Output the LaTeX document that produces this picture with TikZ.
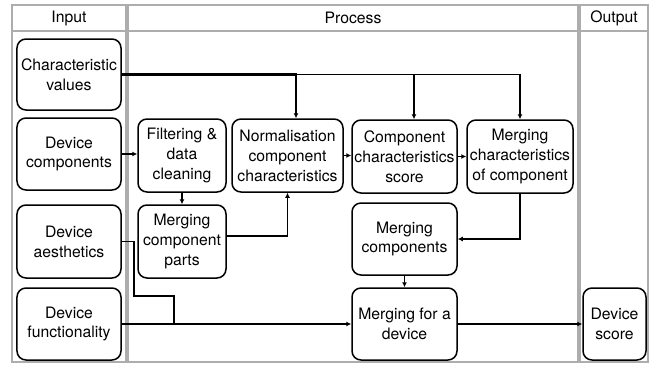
\documentclass[tikz,border=0pt]{standalone}
\usepackage{fontspec}
\setmainfont{TeX Gyre Heros}
\usetikzlibrary{arrows.meta}
\begin{document}
\begin{tikzpicture}[x=1bp,y=-1bp,
  lane/.style={draw=black!32,line width=1.6bp},
  box/.style={draw,line width=1.5bp,rounded corners=9bp,align=center,inner sep=0pt,
    font=\fontsize{15.8}{20}\selectfont},
  head/.style={font=\fontsize{15.8}{20}\selectfont},
  conn/.style={line width=1.9bp,-{Latex[length=5bp,width=5bp]}},
  link/.style={line width=1.9bp}]
\useasboundingbox (0,0) rectangle (649,364);
% swimlanes
\draw[lane] (12,5) rectangle (126,362);
\draw[lane] (128,5) rectangle (578,362);
\draw[lane] (580,5) rectangle (648,362);
\draw[lane] (12,31) -- (126,31);
\draw[lane] (128,31) -- (578,31);
\draw[lane] (580,31) -- (648,31);
\node[head] (hin) at (69,18) {Input};
\node[head] (hpr) at (353,18) {Process};
\node[head] (hout) at (614,18) {Output};
% input boxes
\node[box,minimum width=104bp,minimum height=71bp] (cv) at (69,74.5) {Characteristic\\values};
\node[box,minimum width=104bp,minimum height=72bp] (dc) at (69,154) {Device\\components};
\node[box,minimum width=104bp,minimum height=73bp] (da) at (69,241.5) {Device\\aesthetics};
\node[box,minimum width=104bp,minimum height=72bp] (df) at (69,324) {Device\\functionality};
% process boxes
\node[box,minimum width=88bp,minimum height=73bp] (fdc) at (182,155.5) {Filtering \&\\data\\cleaning};
\node[box,minimum width=88bp,minimum height=73bp] (mcp) at (182,241.5) {Merging\\component\\parts};
\node[box,minimum width=111bp,minimum height=73bp] (norm) at (287.5,155.5) {Normalisation\\component\\characteristics};
\node[box,minimum width=105bp,minimum height=73bp] (ccs) at (404.5,156.5) {Component\\characteristics\\score};
\node[box,minimum width=106bp,minimum height=73bp] (mcc) at (520,156.5) {Merging\\characteristics\\of component};
\node[box,minimum width=105bp,minimum height=72bp] (mc) at (404.5,239) {Merging\\components};
\node[box,minimum width=105bp,minimum height=72bp] (mfd) at (404.5,324) {Merging for a\\device};
% output box
\node[box,minimum width=63bp,minimum height=72bp] (ds) at (614.5,324) {Device\\score};
% connectors
\draw[conn,line width=2.6bp] (cv.east) -| ([xshift=8.5bp]norm.north);
\draw[conn] (cv.east) -| ([xshift=9.5bp]ccs.north);
\draw[conn] (cv.east) -| (mcc.north);
\draw[conn] (dc.east) -- (dc.east -| fdc.west);
\draw[conn] (fdc.south) -- (mcp.north);
\draw[conn] ([yshift=5.5bp]mcp.east) -| (norm.south);
\draw[conn] (norm.east) -- (norm.east -| ccs.west);
\draw[conn] (ccs.east) -- (mcc.west);
\draw[conn] (mcc.south) |- (mc.east);
\draw[conn] (mc.south) -- (mfd.north);
\coordinate (join) at (174,324);
\draw[link] (da.east) -- ++(12,0) |- ([yshift=28bp]join) -- (join);
\draw[conn] (df.east) -- (mfd.west);
\draw[conn] (mfd.east) -- (ds.west);
\end{tikzpicture}
\end{document}
